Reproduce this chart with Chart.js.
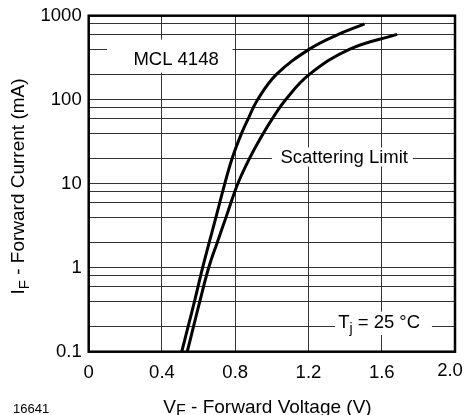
<!DOCTYPE html>
<html lang="en">
<head>
<meta charset="UTF-8">
<title>MCL 4148 - Forward Current vs. Forward Voltage</title>
<script src="https://cdn.jsdelivr.net/npm/chart.js"></script>
<style>
    html, body { margin: 0; padding: 0; background: #fff; }
    #chart { display: block; }
</style>
</head>
<body>
<canvas id="chart" width="465" height="415"></canvas>
<script>
    // values (V in volts, I in mA)
    const upperVoltage = [0.508, 0.543, 0.578, 0.622, 0.658, 0.695, 0.743, 0.783, 0.835, 0.872, 0.922, 1.025, 1.205, 1.363, 1.506];
    const upperCurrent = [0.1, 0.2, 0.4, 1, 2, 4, 10, 20, 40, 60, 100, 200, 400, 600, 800];
    const lowerVoltage = [0.538, 0.5725, 0.607, 0.655, 0.702, 0.75, 0.814, 0.878, 0.954, 1.004, 1.075, 1.205, 1.426, 1.684];
    const lowerCurrent = [0.1, 0.2, 0.4, 1, 2, 4, 10, 20, 40, 60, 100, 200, 400, 600];

    const xTicks = [0, 0.4, 0.8, 1.2, 1.6, 2.0];
    const xTickLabels = ['0', '0.4', '0.8', '1.2', '1.6', '2.0'];
    const yGridValues = [0.1, 0.2, 0.4, 0.6, 0.8, 1, 2, 4, 6, 8, 10, 20, 40, 60, 80,
                         100, 200, 400, 600, 800, 1000];
    const yTickValues = [0.1, 1, 10, 100, 1000];
    const yTickLabels = ['0.1', '1', '10', '100', '1000'];

    const FONT = '"Liberation Sans", Arial, Helvetica, sans-serif';

    function toPoints(xs, ys) {
        return xs.map((v, i) => ({ x: v, y: ys[i] }));
    }

    // draws text made of normal and lowered (subscript) pieces
    function drawParts(ctx, parts, x, y, size, subSize, drop, align) {
        let total = 0;
        parts.forEach(p => {
            ctx.font = (p[1] ? subSize : size) + 'px ' + FONT;
            total += ctx.measureText(p[0]).width;
        });
        let cx = align === 'center' ? x - total / 2 : x;
        parts.forEach(p => {
            ctx.font = (p[1] ? subSize : size) + 'px ' + FONT;
            ctx.fillText(p[0], cx, p[1] ? y + drop : y);
            cx += ctx.measureText(p[0]).width;
        });
    }

    const overlay = {
        id: 'overlay',
        beforeDatasetsDraw(chart) {
            const { ctx } = chart;
            const x = chart.scales.x, y = chart.scales.y;
            const box = (x0, x1, y0, y1) => {
                const l = x.getPixelForValue(x0), r = x.getPixelForValue(x1);
                const t = y.getPixelForValue(y0), b = y.getPixelForValue(y1);
                ctx.fillRect(l, t, r - l, b - t);
            };
            ctx.save();
            ctx.fillStyle = '#fff';
            box(0.10, 0.785, 520, 210);
            box(1.0, 1.77, 27, 16);
            box(1.345, 1.874, 0.30, 0.158);

            ctx.fillStyle = '#000';
            ctx.textBaseline = 'alphabetic';
            drawParts(ctx, [['MCL 4148', false]],
                x.getPixelForValue(0.477), y.getPixelForValue(260), 18.5, 14, 4, 'center');
            drawParts(ctx, [['Scattering Limit', false]],
                x.getPixelForValue(1.395), y.getPixelForValue(17.5), 18.5, 14, 4, 'center');
            drawParts(ctx, [['T', false], ['j', true], [' = 25 °C', false]],
                x.getPixelForValue(1.362), y.getPixelForValue(0.191), 18.5, 14, 5, 'left');
            ctx.restore();
        },
        afterDraw(chart) {
            const { ctx, chartArea } = chart;
            const x = chart.scales.x;
            ctx.save();
            ctx.strokeStyle = '#000';
            ctx.lineWidth = 2.5;
            ctx.strokeRect(chartArea.left, chartArea.top,
                chartArea.right - chartArea.left, chartArea.bottom - chartArea.top);

            ctx.fillStyle = '#000';
            ctx.textBaseline = 'alphabetic';
            // last x tick sits a little inside and higher, like the original
            ctx.font = '18.5px ' + FONT;
            ctx.textAlign = 'center';
            ctx.fillText(xTickLabels[xTickLabels.length - 1],
                x.getPixelForValue(xTicks[xTicks.length - 1]) - 5, chartArea.bottom + 24);
            ctx.textAlign = 'left';

            drawParts(ctx, [['V', false], ['F', true], [' - Forward Voltage (V)', false]],
                267.5, 412.5, 19, 16, 3.5, 'center');

            ctx.font = '13px ' + FONT;
            ctx.fillText('16641', 13, 413);

            ctx.translate(24, 186.5);
            ctx.rotate(-Math.PI / 2);
            drawParts(ctx, [['I', false], ['F', true], [' - Forward Current (mA)', false]],
                0, 0, 19, 15, 4.5, 'center');
            ctx.restore();
        }
    };

    const lineStyle = {
        showLine: true,
        borderColor: '#000',
        borderWidth: 3,
        pointRadius: 0,
        tension: 0.4,
        fill: false
    };

    Chart.defaults.font.family = FONT;
    Chart.defaults.font.size = 18.5;
    Chart.defaults.color = '#000';

    new Chart(document.getElementById('chart'), {
        type: 'scatter',
        data: {
            datasets: [
                Object.assign({ label: 'upper', data: toPoints(upperVoltage, upperCurrent) }, lineStyle),
                Object.assign({ label: 'lower', data: toPoints(lowerVoltage, lowerCurrent) }, lineStyle)
            ]
        },
        options: {
            responsive: false,
            animation: false,
            layout: { padding: { top: 15.7, right: 10, left: 0, bottom: 0 } },
            plugins: {
                legend: { display: false },
                tooltip: { enabled: false }
            },
            scales: {
                x: {
                    type: 'linear',
                    min: 0,
                    max: 2,
                    afterBuildTicks: s => { s.ticks = xTicks.map(v => ({ value: v })); },
                    afterFit: s => {
                        s.height = 63.3;
                        s.paddingLeft = 0;
                        s.paddingRight = 0;
                    },
                    grid: { color: '#333', lineWidth: 1, drawTicks: false },
                    border: { display: false },
                    ticks: {
                        padding: 10,
                        autoSkip: false,
                        maxRotation: 0,
                        callback: (v, i) => i === xTicks.length - 1 ? '' : xTickLabels[i]
                    }
                },
                y: {
                    type: 'logarithmic',
                    min: 0.1,
                    max: 1000,
                    afterBuildTicks: s => { s.ticks = yGridValues.map(v => ({ value: v })); },
                    afterFit: s => {
                        s.width = 88.7;
                        s.paddingTop = 0;
                        s.paddingBottom = 0;
                    },
                    grid: { color: '#333', lineWidth: 1, drawTicks: false },
                    border: { display: false },
                    ticks: {
                        padding: 7,
                        autoSkip: false,
                        callback: v => {
                            const i = yTickValues.indexOf(v);
                            return i >= 0 ? yTickLabels[i] : '';
                        }
                    }
                }
            }
        },
        plugins: [overlay]
    });
</script>
</body>
</html>
